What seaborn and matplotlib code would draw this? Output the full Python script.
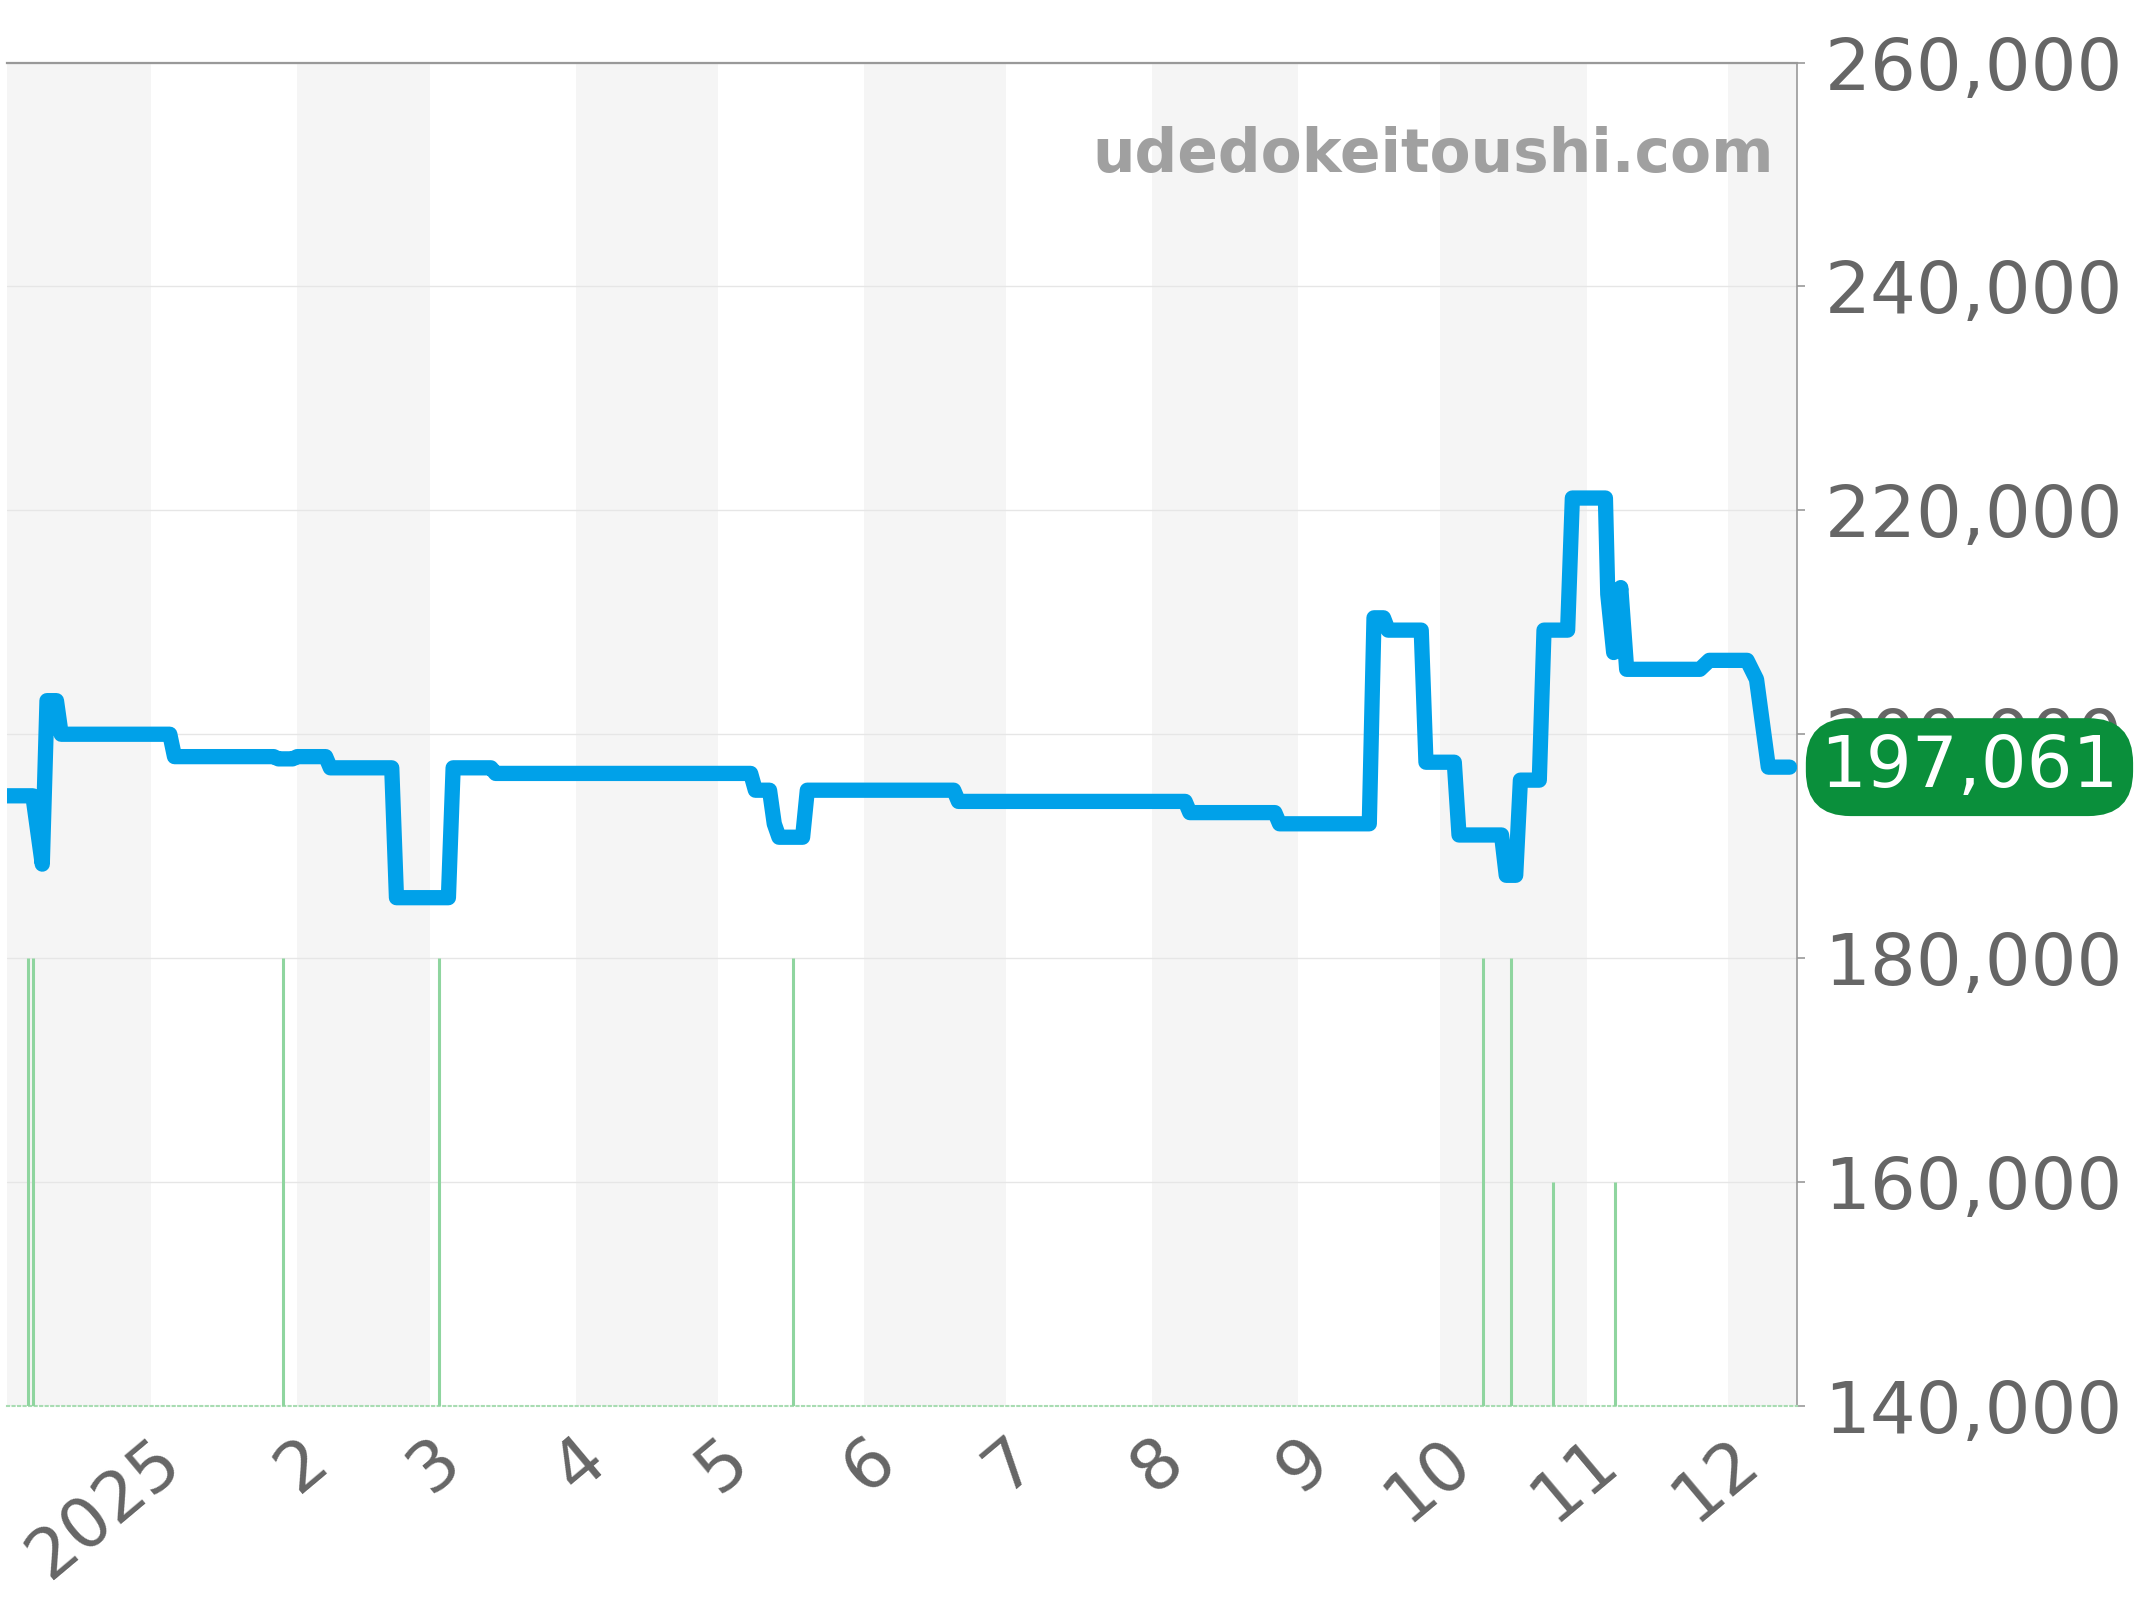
import pandas as pd
import matplotlib
matplotlib.use("Agg")
import matplotlib.pyplot as plt
from matplotlib.ticker import FuncFormatter
import seaborn as sns

# price history
dates = [
    "2024-12-01", "2024-12-07", "2024-12-09", "2024-12-10", "2024-12-12", "2024-12-13",
    "2025-01-05", "2025-01-06", "2025-01-27", "2025-01-28", "2025-01-31", "2025-02-01",
    "2025-02-07", "2025-02-08", "2025-02-21", "2025-02-22", "2025-03-05", "2025-03-06",
    "2025-03-14", "2025-03-15", "2025-05-08", "2025-05-09", "2025-05-12", "2025-05-13",
    "2025-05-14", "2025-05-19", "2025-05-20", "2025-06-20", "2025-06-21", "2025-08-08",
    "2025-08-09", "2025-08-27", "2025-08-28", "2025-09-16", "2025-09-17", "2025-09-19",
    "2025-09-20", "2025-09-27", "2025-09-28", "2025-10-04", "2025-10-05", "2025-10-14",
    "2025-10-15", "2025-10-17", "2025-10-18", "2025-10-22", "2025-10-23", "2025-10-28",
    "2025-10-29", "2025-11-05 00:00", "2025-11-05 12:00", "2025-11-06 18:00",
    "2025-11-08 06:00", "2025-11-09 12:00", "2025-11-25", "2025-11-27", "2025-12-05",
    "2025-12-07", "2025-12-08 12:00", "2025-12-09 12:00", "2025-12-14",
]
prices = [
    194500, 194500, 188400, 203000, 203000, 200000,
    200000, 198000, 198000, 197800, 197800, 198000,
    198000, 197000, 197000, 185400, 185400, 197000,
    197000, 196500, 196500, 195000, 195000, 192000,
    190800, 190800, 195000, 195000, 194000, 194000,
    193000, 193000, 192000, 192000, 210400, 210400,
    209300, 209300, 197500, 197500, 191000, 191000,
    187400, 187400, 195900, 195900, 209300, 209300,
    221100, 221100, 212500, 207300,
    213100, 205800, 205800, 206600, 206600,
    204900, 200200, 197061, 197061,
]

# sales markers (green bars)
sale_dates = ["2024-12-06", "2024-12-07", "2025-01-29", "2025-03-03", "2025-05-17",
              "2025-10-10", "2025-10-16", "2025-10-25", "2025-11-07"]
sale_counts = [2, 2, 2, 2, 2, 2, 2, 1, 1]

month_ticks = pd.date_range("2025-01-01", "2025-12-01", freq="MS")
month_labels = ["2025", "2", "3", "4", "5", "6", "7", "8", "9", "10", "11", "12"]
y_ticks = list(range(140000, 260001, 20000))

sns.set_style("white")
plt.rcParams["font.family"] = ["DejaVu Sans"]

df = pd.DataFrame({"date": pd.to_datetime(dates, format="mixed"), "price": prices})

fig = plt.figure(figsize=(21.44, 16), dpi=100)
ax = fig.add_axes([0.0032, 0.1213, 0.8348, 0.8396])

x0 = pd.Timestamp("2024-12-01 12:00")
x1 = pd.Timestamp("2025-12-15 12:00")

# alternate month shading
edges = [x0] + list(month_ticks) + [x1]
for i in range(0, len(edges) - 1, 2):
    ax.axvspan(edges[i], edges[i + 1], color="#f5f5f5", lw=0, zorder=0)

sns.lineplot(data=df, x="date", y="price", ax=ax, color="#00a1e9", linewidth=11,
             estimator=None, solid_joinstyle="round", solid_capstyle="round", zorder=3)

ax.set_xlim(x0, x1)
ax.set_ylim(140000, 260000)
ax.set_yticks(y_ticks)
ax.yaxis.set_major_formatter(FuncFormatter(lambda v, p: f"{int(v):,}"))
ax.set_xticks(month_ticks)
ax.set_xticklabels(month_labels, rotation=40, ha="right", va="top",
                   rotation_mode="anchor")
ax.set_xlabel("")
ax.set_ylabel("")
ax.yaxis.grid(True, color="#e6e6e6", lw=1)
ax.xaxis.grid(False)
ax.set_axisbelow(True)

# sales count bars on a hidden twin axis
ax2 = ax.twinx()
ax2.vlines(pd.to_datetime(sale_dates), 0, sale_counts, color="#8fd59f", lw=2.2)
ax2.set_ylim(0, 6)
ax2.set_xlim(x0, x1)
ax2.set_axis_off()

ax.yaxis.tick_right()
ax.tick_params(axis="y", labelsize=52, color="#999999", labelcolor="#666666",
               length=6, width=1.2, pad=14, right=True, left=False)
ax.tick_params(axis="x", labelsize=50, color="#999999", labelcolor="#666666",
               length=4, width=1.2, pad=10)

ax.spines["left"].set_visible(False)
ax.spines["top"].set_color("#999999")
ax.spines["top"].set_linewidth(1.6)
ax.spines["right"].set_color("#999999")
ax.spines["right"].set_linewidth(1.2)
ax.spines["bottom"].set_color("#a8dcb2")
ax.spines["bottom"].set_linestyle(":")
ax.spines["bottom"].set_linewidth(1.5)

ax.text(0.987, 0.931, "udedokeitoushi.com", transform=ax.transAxes, ha="right",
        va="center", fontsize=43, fontweight="bold", color="#a0a0a0", zorder=5)

last = prices[-1]
ax.annotate(f"{last:,}", xy=(1.0, last), xycoords=ax.get_yaxis_transform(),
            xytext=(17, 0), textcoords="offset points", ha="left", va="center",
            fontsize=52, color="white", annotation_clip=False, zorder=10,
            bbox=dict(boxstyle="round,pad=0.2,rounding_size=0.62", fc="#0a8f3b", ec="none"))

fig.savefig("out.png", dpi=100)
